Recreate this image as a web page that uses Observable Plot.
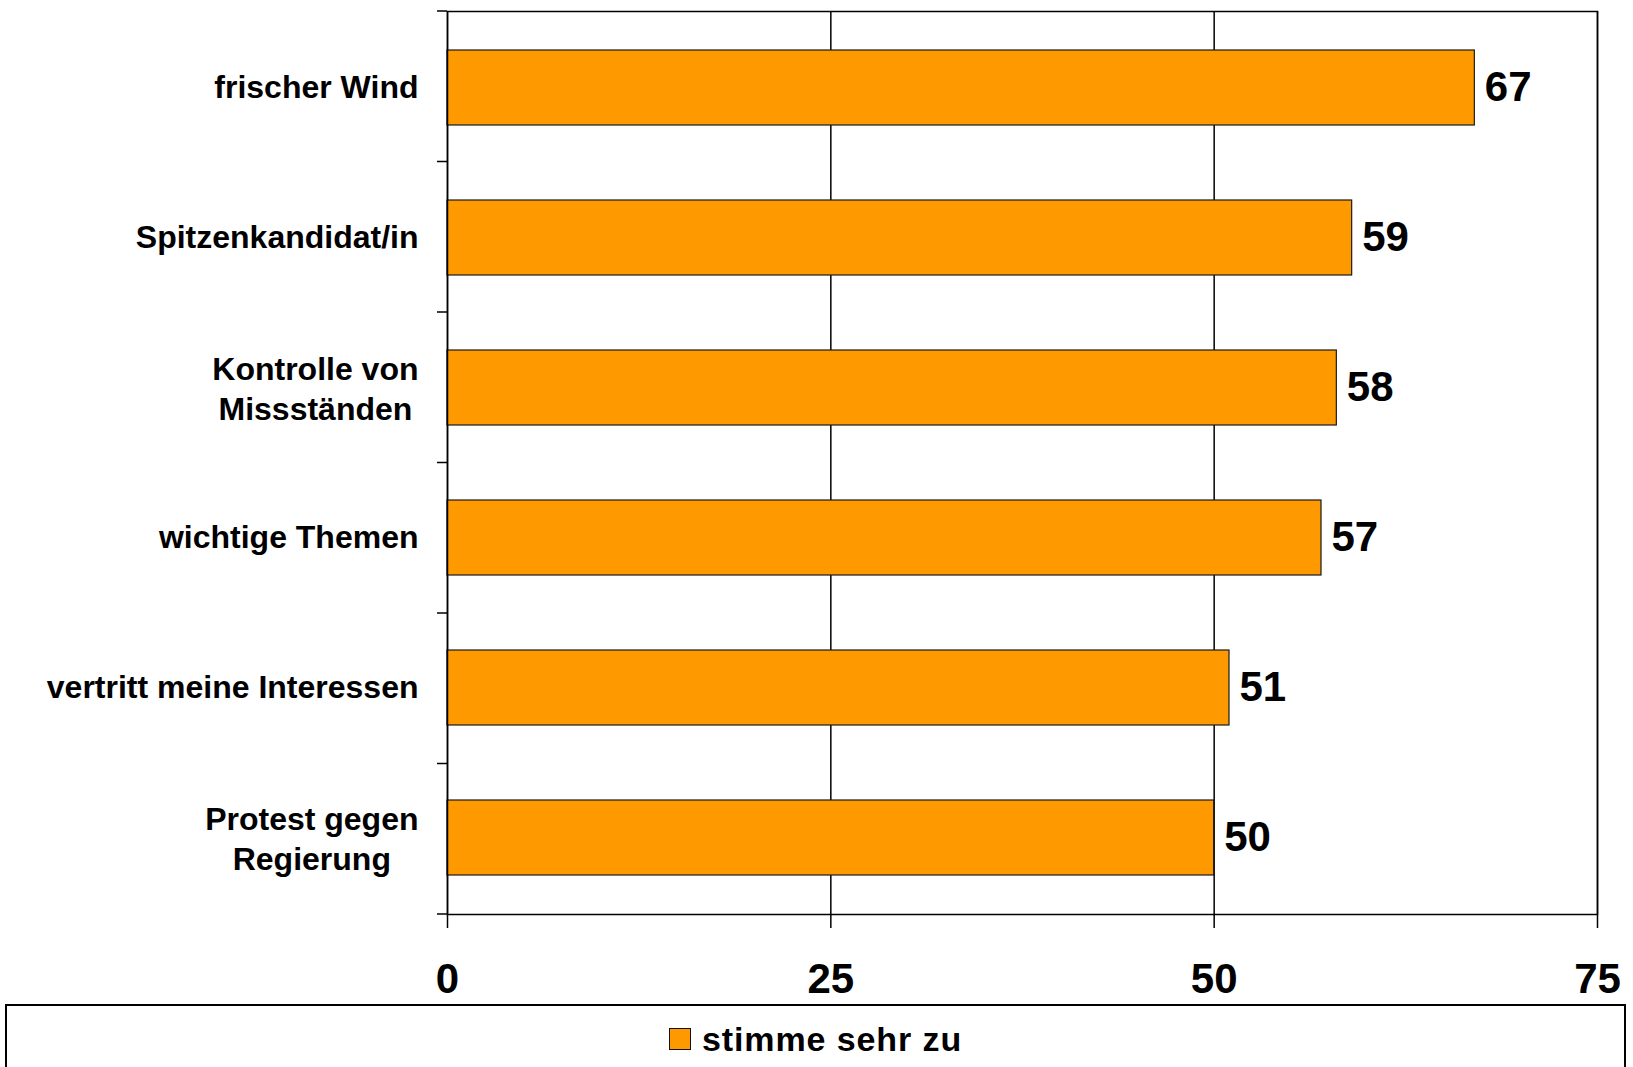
<!DOCTYPE html>
<html>
<head>
<meta charset="utf-8">
<script src="https://cdn.jsdelivr.net/npm/d3@7"></script>
<script src="https://cdn.jsdelivr.net/npm/@observablehq/plot@0.6"></script>
<style>
html, body { margin: 0; padding: 0; background: #fff; overflow: hidden; }
body { width: 1633px; height: 1067px; position: relative; font-family: "Liberation Sans", Arial, sans-serif; }
#chart { position: absolute; left: 0; top: 0; }
#legend { position: absolute; left: 5px; top: 1004px; width: 1621px; height: 100px; border: 2px solid #000; box-sizing: border-box; }
#legend .row { display: flex; align-items: center; height: 34px; position: absolute; top: 16px; left: 0; right: 0; justify-content: center; }
#legend .sw { width: 22px; height: 22px; background: #ff9900; border: 1.5px solid #111; box-sizing: border-box; margin-right: 11px; }
#legend .lt { font-size: 34px; font-weight: bold; letter-spacing: 0.9px; line-height: 1; color: #000; }
</style>
</head>
<body>
<div id="chart"></div>
<div id="legend"><div class="row"><span class="sw"></span><span class="lt" id="legendText"></span></div></div>
<script>
const categories = [
  "frischer Wind",
  "Spitzenkandidat/in",
  "Kontrolle von\nMissständen",
  "wichtige Themen",
  "vertritt meine Interessen",
  "Protest gegen\nRegierung"
];
const values = [67, 59, 58, 57, 51, 50];
const xTicks = [0, 25, 50, 75];
const legendLabel = "stimme sehr zu";
const barColor = "#ff9900";

const W = 1633, H = 1004, mL = 447, mR = 36, mT = 11, mB = 90;
const data = categories.map((c, i) => ({category: c, value: values[i]}));

// ticks at the boundaries between categories (left side)
function boundaryTicks() {
  const n = categories.length;
  const step = (H - mT - mB) / n;
  const g = d3.create("svg:g");
  for (let k = 0; k <= n; k++) {
    const y = mT + k * step;
    g.append("line")
      .attr("x1", mL - 10).attr("x2", mL)
      .attr("y1", y).attr("y2", y)
      .attr("stroke", "#000").attr("stroke-width", 1.5);
  }
  return g.node();
}

const plot = Plot.plot({
  width: W, height: H,
  marginLeft: mL, marginRight: mR, marginTop: mT, marginBottom: mB,
  style: {fontFamily: '"Liberation Sans", Arial, sans-serif', background: "white", color: "#000", overflow: "visible"},
  x: {domain: [0, 75], label: null},
  y: {domain: categories, paddingInner: 0.5, paddingOuter: 0.25, label: null},
  marks: [
    Plot.ruleX(xTicks, {stroke: "#000", strokeWidth: 1.5}),
    Plot.barX(data, {x: "value", y: "category", fill: barColor, stroke: "#1a1a1a", strokeWidth: 1.2}),
    Plot.text(data, {x: "value", y: "category", text: d => String(d.value), dx: 10, textAnchor: "start",
      fontSize: 42, fontWeight: "bold", fill: "#000"}),
    Plot.axisX({ticks: xTicks, tickSize: 14, tickPadding: 35, fontSize: 42, fontWeight: "bold",
      strokeWidth: 1.5, label: null, tickFormat: d => String(d)}),
    Plot.axisY({tickSize: 0, tickPadding: 29, fontSize: 32, fontWeight: "bold",
      label: null, textAnchor: "end"}),
    Plot.frame({stroke: "#000", strokeWidth: 1.5}),
    boundaryTicks
  ]
});

document.getElementById("chart").appendChild(plot);
document.getElementById("legendText").textContent = legendLabel;

// center multi-line category labels as a block right-aligned to the axis
const lineGap = 40.5;
const yg = plot.querySelector('g[aria-label="y-axis tick label"]');
if (yg) {
  yg.querySelectorAll("text").forEach(t => {
    const spans = t.querySelectorAll("tspan");
    if (spans.length > 1) {
      let maxW = 0;
      spans.forEach(s => { maxW = Math.max(maxW, s.getComputedTextLength()); });
      t.setAttribute("text-anchor", "middle");
      t.setAttribute("y", 0);
      t.removeAttribute("dy");
      spans.forEach((s, i) => {
        s.setAttribute("x", -maxW / 2);
        s.setAttribute("dy", i === 0 ? (17.5 - (spans.length - 1) / 2 * lineGap) : lineGap);
      });
    }
  });
}
</script>
</body>
</html>
